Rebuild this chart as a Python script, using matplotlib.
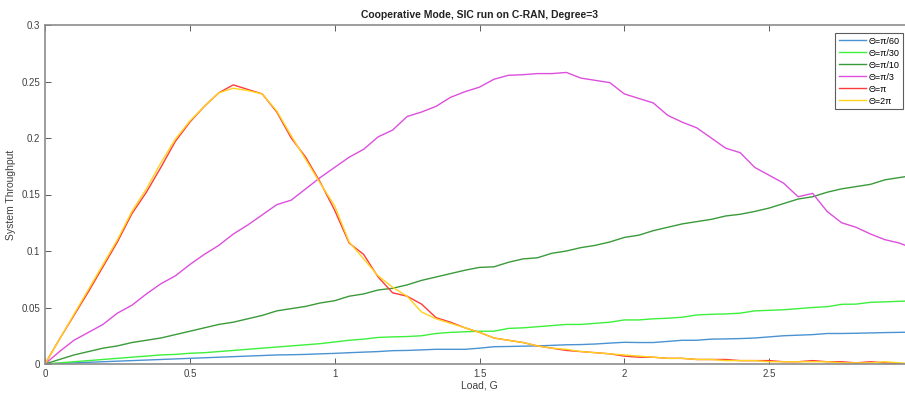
import matplotlib.pyplot as plt
import numpy as np

plt.rcParams['font.family'] = ['Liberation Sans', 'DejaVu Sans']

# load G, step 0.05
load = np.round(np.arange(0, 3.001, 0.05), 2)

thr_pi60 = [0, 0.0005, 0.001, 0.0015, 0.002, 0.0025, 0.003, 0.0035, 0.004, 0.0045,
            0.005, 0.0055, 0.006, 0.0065, 0.007, 0.0075, 0.008, 0.0082, 0.0085, 0.009,
            0.0094, 0.010, 0.0105, 0.011, 0.0118, 0.012, 0.0125, 0.013, 0.013, 0.013,
            0.014, 0.0153, 0.0155, 0.0158, 0.016, 0.0165, 0.017, 0.0172, 0.0177, 0.0185,
            0.0192, 0.019, 0.019, 0.020, 0.021, 0.021, 0.022, 0.0222, 0.0225, 0.023,
            0.024, 0.025, 0.0255, 0.026, 0.027, 0.027, 0.0272, 0.0275, 0.0278, 0.028, 0.0282]

thr_pi30 = [0, 0.001, 0.002, 0.003, 0.004, 0.005, 0.006, 0.007, 0.008, 0.0085,
            0.0095, 0.010, 0.011, 0.012, 0.013, 0.014, 0.015, 0.016, 0.017, 0.018,
            0.0195, 0.021, 0.022, 0.0235, 0.024, 0.0243, 0.025, 0.027, 0.028, 0.0285,
            0.029, 0.029, 0.0315, 0.032, 0.033, 0.034, 0.035, 0.035, 0.036, 0.037,
            0.039, 0.039, 0.040, 0.0405, 0.0414, 0.0434, 0.044, 0.0443, 0.045, 0.047,
            0.0475, 0.048, 0.049, 0.050, 0.0507, 0.0528, 0.053, 0.0546, 0.055, 0.0555, 0.056]

thr_pi10 = [0, 0.004, 0.008, 0.011, 0.014, 0.016, 0.019, 0.021, 0.023, 0.026,
            0.029, 0.032, 0.035, 0.037, 0.040, 0.043, 0.047, 0.049, 0.051, 0.054,
            0.056, 0.060, 0.062, 0.0655, 0.067, 0.070, 0.074, 0.077, 0.080, 0.083,
            0.0855, 0.086, 0.090, 0.093, 0.094, 0.098, 0.100, 0.103, 0.105, 0.108,
            0.112, 0.114, 0.118, 0.121, 0.124, 0.126, 0.128, 0.131, 0.1325, 0.135,
            0.138, 0.142, 0.146, 0.148, 0.152, 0.155, 0.157, 0.159, 0.163, 0.165, 0.167]

thr_pi3 = [0, 0.011, 0.021, 0.028, 0.035, 0.045, 0.052, 0.062, 0.071, 0.078,
           0.088, 0.097, 0.105, 0.115, 0.123, 0.132, 0.141, 0.145, 0.155, 0.165,
           0.174, 0.183, 0.190, 0.201, 0.207, 0.219, 0.223, 0.228, 0.236, 0.241,
           0.245, 0.252, 0.2555, 0.256, 0.257, 0.257, 0.258, 0.253, 0.251, 0.249,
           0.239, 0.235, 0.231, 0.220, 0.214, 0.209, 0.200, 0.191, 0.187, 0.174,
           0.167, 0.160, 0.148, 0.151, 0.135, 0.125, 0.121, 0.115, 0.110, 0.107, 0.102]

thr_pi = [0, 0.022, 0.043, 0.064, 0.086, 0.108, 0.133, 0.152, 0.174, 0.197,
          0.214, 0.228, 0.240, 0.247, 0.243, 0.239, 0.223, 0.200, 0.183, 0.161,
          0.136, 0.107, 0.097, 0.077, 0.063, 0.060, 0.053, 0.041, 0.037, 0.032,
          0.028, 0.023, 0.021, 0.019, 0.016, 0.014, 0.012, 0.011, 0.010, 0.009,
          0.007, 0.006, 0.006, 0.005, 0.005, 0.004, 0.004, 0.004, 0.003, 0.003,
          0.003, 0.002, 0.002, 0.003, 0.002, 0.002, 0.001, 0.002, 0.001, 0.0, 0.0]

thr_2pi = [0, 0.022, 0.044, 0.066, 0.088, 0.110, 0.135, 0.155, 0.178, 0.199,
           0.215, 0.228, 0.240, 0.244, 0.242, 0.239, 0.224, 0.202, 0.181, 0.160,
           0.140, 0.108, 0.093, 0.078, 0.068, 0.060, 0.046, 0.040, 0.036, 0.032,
           0.028, 0.023, 0.021, 0.019, 0.016, 0.014, 0.013, 0.011, 0.010, 0.009,
           0.008, 0.007, 0.006, 0.005, 0.005, 0.004, 0.004, 0.003, 0.003, 0.003,
           0.002, 0.002, 0.002, 0.002, 0.002, 0.001, 0.001, 0.001, 0.002, 0.001, 0.0]

labels = ['Θ=π/60', 'Θ=π/30', 'Θ=π/10', 'Θ=π/3', 'Θ=π', 'Θ=2π']
colors = ['#4a92d2', '#3cf03c', '#3a9a3a', '#dd4fdd', '#ff3a3a', '#ffd21e']
series = [thr_pi60, thr_pi30, thr_pi10, thr_pi3, thr_pi, thr_2pi]

fig = plt.figure(figsize=(9.05, 3.94), dpi=100)
# axes runs past the right edge, like the cropped screenshot
ax = fig.add_axes([45/905, 30/394, 869/905, 339/394])

for y, c, lab in zip(series, colors, labels):
    ax.plot(load, y, color=c, lw=1.0, label=lab)

ax.set_xlim(0, 3)
ax.set_ylim(0, 0.3)
ax.set_xticks([0, 0.5, 1, 1.5, 2, 2.5])
ax.set_xticklabels(['0', '0.5', '1', '1.5', '2', '2.5'])
ax.set_yticks([0, 0.05, 0.1, 0.15, 0.2, 0.25, 0.3])
ax.set_yticklabels(['0', '0.05', '0.1', '0.15', '0.2', '0.25', '0.3'])
ax.tick_params(direction='in', top=True, labelsize=7, colors='#404040',
               length=4, width=0.6)
for s in ax.spines.values():
    s.set_color('#8c8c8c')
    s.set_linewidth(1.2)

ax.set_xlabel('Load, G', fontsize=7.5, color='#404040', labelpad=1)
ax.set_ylabel('System Throughput', fontsize=7.5, color='#404040', labelpad=4)
ax.set_title('Cooperative Mode, SIC run on C-RAN, Degree=3', fontsize=7.5,
             fontweight='bold', color='#222222', pad=5)

leg = ax.legend(loc='upper right', bbox_to_anchor=(903/905, 361/394),
                bbox_transform=fig.transFigure, fontsize=6.5, frameon=True,
                fancybox=False, handlelength=3.0, handletextpad=0.3,
                labelspacing=0.33, borderpad=0.4, borderaxespad=0)
leg.get_frame().set_edgecolor('#333333')
leg.get_frame().set_linewidth(0.8)

fig.savefig('out.png', dpi=100)
